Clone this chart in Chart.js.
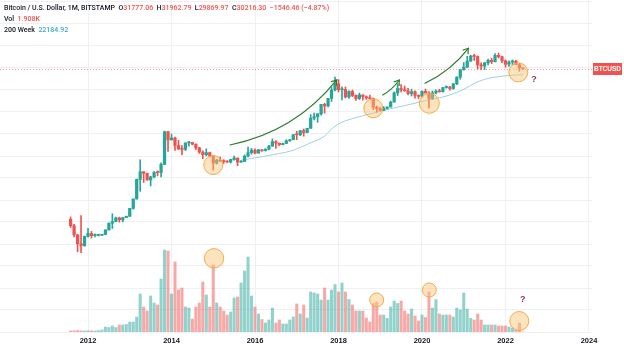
<!DOCTYPE html>
<html><head><meta charset="utf-8">
<script src="https://cdn.jsdelivr.net/npm/chart.js@4.4.1/dist/chart.umd.min.js"></script>
<style>
html,body{margin:0;padding:0;background:#fff;}
#wrap{position:relative;width:624px;height:351px;overflow:hidden;background:#fff;}
#c{position:absolute;left:0;top:0;}
.hdr{position:absolute;left:4px;font-family:Roboto,'Liberation Sans',Arial,sans-serif;font-weight:500;font-size:7px;color:#131722;white-space:nowrap;line-height:9px;}
.r{color:#ef5350}
.b{color:#3fa7c4}
</style></head><body>
<div id="wrap"><canvas id="c" width="624" height="351"></canvas>
<div class="hdr" style="top:4px">Bitcoin / U.S. Dollar, 1M, BITSTAMP&nbsp; O<span class="r">31777.06</span>&nbsp; H<span class="r">31962.79</span>&nbsp; L<span class="r">29869.97</span>&nbsp; C<span class="r">30216.30</span>&nbsp; <span class="r">−1546.46 (−4.87%)</span></div>
<div class="hdr" style="top:15px">Vol&nbsp; <span class="r">1.908K</span></div>
<div class="hdr" style="top:26px">200 Week&nbsp; <span class="b">22184.92</span></div>
</div>
<script>
// ---- categories: monthly candles from Aug 2011 ----
const firstYear = 2011, firstMonth = 8;
const yearTicks = [2012, 2014, 2016, 2018, 2020, 2022, 2024];
const priceGrid = [0.0316, 0.1, 0.316, 1, 3.16, 10, 31.6, 100, 316, 1000, 3162, 10000, 31623, 100000, 316228, 1000000];

const open = [11.5,8.2,5.1,3.2,2.9,4.7,5.5,4.9,4.95,5.0,5.2,6.6,9.4,10.2,12.4,11.2,12.6,13.5,20.4,33.4,
93,139,128,90,106,135,133,205,1130,732,810,550,455,447,627,640,586,481,387,338,
378,318,218,254,244,236,230,263,284,230,236,313,377,430,368,437,416,448,531,670,
621,573,608,699,741,964,960,1190,1080,1350,2300,2480,2860,4700,4340,6440,9950,13850,10100,10300,
6930,9240,7490,6390,7730,7020,6620,6370,4040,3740,3440,3820,4100,5320,8570,10820,10090,9600,8300,9150,
7550,7180,9350,8520,6420,8630,9450,9140,11340,11650,10780,13790,19700,28990,33100,45160,58780,57750,37300,35040,
41460,47100,43830,61310,57000,46200,38480,43190,45530,37710,31777.06];
const high = [13.0,8.9,5.2,14.0,4.8,7.2,6.1,5.4,5.3,5.2,6.7,9.6,15.4,12.9,12.9,12.7,13.6,20.4,33.4,95,
259,139,128,110,140,145,220,1163,1153,995,856,720,542,630,680,650,600,497,416,460,
387,321,265,300,261,248,268,315,285,248,335,502,470,462,448,439,468,549,777,705,
621,620,740,755,980,1150,1200,1300,1350,2760,3000,2930,4750,5000,6470,11400,19666,17250,11800,11700,
9760,9990,7760,8500,7760,7410,7680,6590,4310,4080,4200,4130,5600,9100,13880,13200,12320,10900,10370,9510,
7750,9600,10500,9190,9470,10070,10390,11450,12470,12080,14100,19900,29300,41950,58350,61780,64900,59500,41300,42400,
50500,52900,67000,69000,59100,47900,45800,48200,47450,40000,31962.79];
const low = [7.5,4.6,2.1,2.0,2.8,4.5,4.3,4.6,4.8,4.9,5.2,6.5,7.1,10.0,9.9,10.0,12.6,13.2,19.5,33,
50,79,89,66,100,112,106,200,400,730,425,443,340,420,530,566,440,362,275,318,
300,152,208,236,214,226,218,253,190,225,236,300,347,352,365,400,412,436,525,471,
540,565,603,680,740,740,915,890,1060,1340,2100,1840,2680,2970,4110,5500,9500,9000,5970,6600,
6430,7040,5780,6070,5880,6110,6180,3560,3120,3350,3370,3690,4080,5320,7460,9080,9330,7710,7300,6520,
6430,6850,8500,3850,6160,8100,8900,8970,10970,9880,10380,13220,17600,28130,32300,45000,47000,30000,28800,29300,
37330,39600,43300,53300,42000,32950,34300,37200,37700,26700,29869.97];
const close = [8.2,5.1,3.2,2.9,4.7,5.5,4.9,4.95,5.0,5.2,6.6,9.4,10.2,12.4,11.2,12.6,13.5,20.4,33.4,93,
139,128,90,106,135,133,205,1130,732,810,550,455,447,627,640,586,481,387,338,378,
318,218,254,244,236,230,263,284,230,236,313,377,430,368,437,416,448,531,670,621,
573,608,699,741,964,960,1190,1080,1350,2300,2480,2860,4700,4340,6440,9950,13850,10100,10300,6930,
9240,7490,6390,7730,7020,6620,6370,4040,3740,3440,3820,4100,5320,8570,10820,10090,9600,8300,9150,7550,
7180,9350,8520,6420,8630,9450,9140,11340,11650,10780,13790,19700,28990,33100,45160,58780,57750,37300,35040,41460,
47100,43830,61310,57000,46200,38480,43190,45530,37710,31790,30216.30];
// volume in thousand BTC
const volume = [10,12,14,12,10,12,12,10,14,20,50,45,60,45,70,70,75,100,100,150,
380,250,210,360,290,270,530,820,810,380,700,420,440,250,240,130,250,290,500,370,
250,670,290,250,210,170,200,340,350,490,610,750,360,250,180,125,90,120,240,90,
120,80,80,120,150,280,180,270,140,400,390,380,320,440,320,420,475,400,490,400,
325,270,210,210,210,140,100,285,300,170,170,137,250,310,285,310,210,180,230,160,
110,170,145,400,240,325,180,170,170,170,150,240,220,390,230,137,120,180,120,70,
70,70,70,60,60,60,50,40,20,90,1.908];
// 200-week moving average (starts Sep 2015)
const ma200 = [null,null,null,null,null,null,null,null,null,null,null,null,null,null,null,null,null,null,null,null,
null,null,null,null,null,null,null,null,null,null,null,null,null,null,null,null,null,null,null,null,
null,null,null,null,null,null,null,null,null,256,262,270,278,287,296,305,315,325,336,348,
360,373,387,402,430,460,495,535,580,630,680,730,800,900,1080,1300,1500,1700,1850,2000,
2120,2230,2350,2470,2600,2730,2860,3000,3150,3300,3450,3600,3750,3900,4080,4250,4420,4600,4800,5000,
5250,5500,5700,5900,6150,6400,6650,6950,7300,7700,8200,8800,9500,10400,11500,12700,14000,15300,16400,17400,
18300,19000,19600,20100,20600,21000,21400,21700,21950,22100,22184.92];

// annotations (in data space: decimal year, value)
const priceCircles = [[2015.00,197],[2018.833,3840],[2020.175,4990],[2022.306,25200]];
const volCircles = [[2015.018,737],[2018.915,320],[2020.175,420],[2022.33,110]];
const arrows = [
  [[2015.401,562],[2016.958,1110],[2017.957,16870]],
  [[2019.058,7690],[2019.281,10000],[2019.456,16870]],
  [[2020.072,14190],[2020.718,28480],[2021.109,88700]]
];
const priceQuestion = [2022.682,16900];
const volQuestion = [2022.412,320];

// ---- build ----
const tx = open.map((_, i) => firstYear + (firstMonth - 1 + i) / 12);
const up = close.map((c, i) => c >= open[i]);
const TEAL = '#26a69a', RED = '#ef5350';
const TEAL_V = 'rgba(38,166,154,0.5)', RED_V = 'rgba(239,83,80,0.5)';

const bodies = open.map((o, i) => ({x: tx[i], y: [o, close[i]]}));
const wicks = open.map((o, i) => ({x: tx[i], y: [low[i], high[i]]}));
const vols = volume.map((v, i) => ({x: tx[i], y: v}));
const maPts = ma200.map((v, i) => v == null ? null : ({x: tx[i], y: v})).filter(p => p);

const overlay = {
  id: 'overlay',
  afterDatasetsDraw(chart) {
    const {ctx, chartArea: a, scales: {x, y, yv}} = chart;
    ctx.save();
    // last price dotted line
    const py = Math.round(y.getPixelForValue(close[close.length - 1])) + 0.5;
    ctx.strokeStyle = 'rgba(239,83,80,0.55)';
    ctx.lineWidth = 1;
    ctx.setLineDash([1, 2]);
    ctx.beginPath(); ctx.moveTo(a.left, py); ctx.lineTo(a.right, py); ctx.stroke();
    ctx.setLineDash([]);
    // circles
    const drawCircle = (cx, cy, r) => {
      ctx.beginPath(); ctx.arc(cx, cy, r, 0, Math.PI * 2);
      ctx.fillStyle = 'rgba(252,196,110,0.45)'; ctx.fill();
      ctx.strokeStyle = 'rgba(240,168,70,0.95)'; ctx.lineWidth = 1; ctx.stroke();
    };
    const pr = [9.5, 9.5, 10, 9.5], vr = [9.7, 7, 7, 9.5];
    priceCircles.forEach((c, i) => drawCircle(x.getPixelForValue(c[0]), y.getPixelForValue(c[1]), pr[i]));
    volCircles.forEach((c, i) => drawCircle(x.getPixelForValue(c[0]), yv.getPixelForValue(c[1]), vr[i]));
    // arrows
    ctx.strokeStyle = '#2e7d32'; ctx.lineWidth = 1.2; ctx.lineCap = 'round';
    arrows.forEach(ar => {
      const p = ar.map(q => [x.getPixelForValue(q[0]), y.getPixelForValue(q[1])]);
      ctx.beginPath(); ctx.moveTo(p[0][0], p[0][1]);
      ctx.quadraticCurveTo(p[1][0], p[1][1], p[2][0], p[2][1]); ctx.stroke();
      const ang = Math.atan2(p[2][1] - p[1][1], p[2][0] - p[1][0]);
      const L = 5.5;
      ctx.beginPath();
      ctx.moveTo(p[2][0] - L * Math.cos(ang - 0.6), p[2][1] - L * Math.sin(ang - 0.6));
      ctx.lineTo(p[2][0], p[2][1]);
      ctx.lineTo(p[2][0] - L * Math.cos(ang + 0.6), p[2][1] - L * Math.sin(ang + 0.6));
      ctx.stroke();
    });
    // question marks
    ctx.fillStyle = '#8a3a62';
    ctx.font = 'bold 9px "Liberation Sans", Arial, sans-serif';
    ctx.textAlign = 'center'; ctx.textBaseline = 'middle';
    ctx.fillText('?', x.getPixelForValue(priceQuestion[0]), y.getPixelForValue(priceQuestion[1]));
    ctx.fillText('?', x.getPixelForValue(volQuestion[0]), yv.getPixelForValue(volQuestion[1]));
    ctx.restore();
  },
  afterDraw(chart) {
    const {ctx, chartArea: a, scales: {y}} = chart;
    const py = Math.round(y.getPixelForValue(close[close.length - 1]));
    ctx.save();
    ctx.fillStyle = RED;
    ctx.fillRect(a.right + 1, py - 6, 29, 12);
    ctx.fillStyle = '#fff';
    ctx.font = 'bold 6.5px "Liberation Sans", Arial, sans-serif';
    ctx.textAlign = 'center'; ctx.textBaseline = 'middle';
    ctx.fillText('BTCUSD', a.right + 15.5, py + 0.5);
    ctx.restore();
  }
};

const gridColor = '#eef0f3';
new Chart(document.getElementById('c'), {
  type: 'bar',
  data: {
    datasets: [
      {type: 'bar', label: 'Volume', data: vols, yAxisID: 'yv', grouped: false, barThickness: 2.4, order: 4,
       backgroundColor: ctx => up[ctx.dataIndex] ? TEAL_V : RED_V, borderWidth: 0},
      {type: 'line', label: '200 Week', data: maPts, yAxisID: 'y', order: 3, borderColor: '#9dd0e2',
       borderWidth: 1, pointRadius: 0, cubicInterpolationMode: 'monotone', fill: false},
      {type: 'bar', label: 'Wick', data: wicks, yAxisID: 'y', grouped: false, barThickness: 1, order: 2,
       backgroundColor: ctx => up[ctx.dataIndex] ? TEAL : RED, borderWidth: 0},
      {type: 'bar', label: 'Body', data: bodies, yAxisID: 'y', grouped: false, barThickness: 2.6, order: 1,
       minBarLength: 1, backgroundColor: ctx => up[ctx.dataIndex] ? TEAL : RED, borderWidth: 0}
    ]
  },
  options: {
    responsive: false,
    animation: false,
    events: [],
    devicePixelRatio: 1,
    layout: {padding: 0},
    plugins: {legend: {display: false}, tooltip: {enabled: false}},
    scales: {
      x: {
        type: 'linear', position: 'bottom', offset: false,
        min: 2009.892, max: 2024.072,
        afterBuildTicks: s => { s.ticks = yearTicks.map(v => ({value: v})); },
        afterFit: s => { s.height = 19; },
        grid: {color: gridColor, drawTicks: false, offset: false},
        border: {display: false},
        ticks: {padding: 4, color: '#131722', font: {family: 'Liberation Sans', size: 7.5, weight: 'bold'},
                callback: v => String(v), maxRotation: 0, autoSkip: false}
      },
      y: {
        type: 'logarithmic', position: 'right',
        min: 0.0316, max: 1110000,
        afterBuildTicks: s => { s.ticks = priceGrid.map(v => ({value: v})); },
        afterFit: s => { s.width = 32; },
        grid: {color: gridColor, drawTicks: false},
        border: {display: false},
        ticks: {display: false}
      },
      yv: {
        type: 'linear', display: false, min: 0, max: 3320
      }
    }
  },
  plugins: [overlay]
});
</script>
</body></html>
